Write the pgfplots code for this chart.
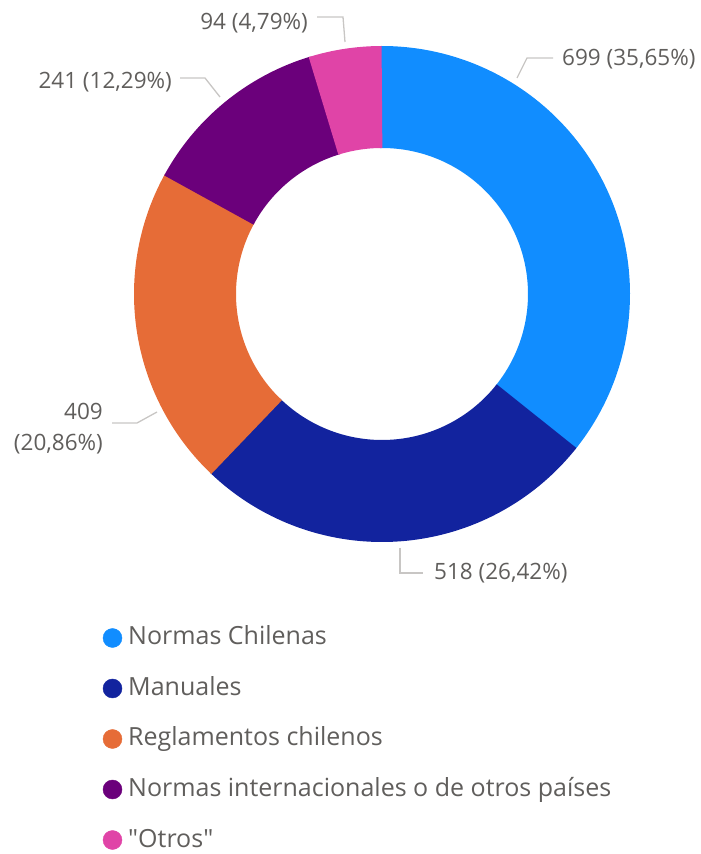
\documentclass[border=0pt]{standalone}
\usepackage{pgfplots}
\pgfplotsset{compat=1.18}
\usepackage{fontspec}
\setmainfont{Open Sans}
\definecolor{c1}{HTML}{118DFF}
\definecolor{c2}{HTML}{12239E}
\definecolor{c3}{HTML}{E66C37}
\definecolor{c4}{HTML}{6B007B}
\definecolor{c5}{HTML}{E044A7}
\definecolor{txt}{HTML}{605E5C}
\definecolor{lead}{HTML}{C8C6C4}
% data
\def\vA{699}\def\vB{518}\def\vC{409}\def\vD{241}\def\vE{94}
\pgfmathsetmacro\tot{\vA+\vB+\vC+\vD+\vE}
\pgfmathsetmacro\aA{90}
\pgfmathsetmacro\aB{\aA-(\vA/\tot)*360}
\pgfmathsetmacro\aC{\aB-(\vB/\tot)*360}
\pgfmathsetmacro\aD{\aC-(\vC/\tot)*360}
\pgfmathsetmacro\aE{\aD-(\vD/\tot)*360}
\pgfmathsetmacro\aF{\aE-(\vE/\tot)*360}
% small overlaps to hide anti-aliasing seams
\pgfmathsetmacro\aAx{\aA+0.6}
\pgfmathsetmacro\aBx{\aB-0.6}
\pgfmathsetmacro\aCx{\aC-0.6}
\pgfmathsetmacro\aDx{\aD-0.6}
\pgfmathsetmacro\aEx{\aE-0.6}
\newcommand\lf{\fontsize{22.5}{27}\selectfont}
\newcommand\gf{\fontsize{25}{30}\selectfont}
\begin{document}
\begin{tikzpicture}
\begin{axis}[scale only axis, width=701pt, height=854pt,
  xmin=0, xmax=701, ymin=0, ymax=854, hide axis, clip=false]
\addplot[c1, no markers, line width=102pt, domain=\aBx:\aAx, samples=150] ({382+197*cos(x)},{560+197*sin(x)});
\addplot[c2, no markers, line width=102pt, domain=\aCx:\aB, samples=120] ({382+197*cos(x)},{560+197*sin(x)});
\addplot[c3, no markers, line width=102pt, domain=\aDx:\aC, samples=100] ({382+197*cos(x)},{560+197*sin(x)});
\addplot[c4, no markers, line width=102pt, domain=\aEx:\aD, samples=60] ({382+197*cos(x)},{560+197*sin(x)});
\addplot[c5, no markers, line width=102pt, domain=\aF:\aE, samples=30] ({382+197*cos(x)},{560+197*sin(x)});
% leader lines
\draw[lead, line width=1.3pt] (axis cs:517,776) -- (axis cs:527,796) -- (axis cs:553,796);
\draw[lead, line width=1.3pt] (axis cs:317,837) -- (axis cs:343,837) -- (axis cs:345,812);
\draw[lead, line width=1.3pt] (axis cs:180,776) -- (axis cs:205,776) -- (axis cs:220,757);
\draw[lead, line width=1.3pt] (axis cs:112,431) -- (axis cs:137,431) -- (axis cs:157,442);
\draw[lead, line width=1.3pt] (axis cs:400,306) -- (axis cs:400,281) -- (axis cs:423,281);
% data labels
\node[anchor=base west, inner sep=0pt, text=txt, font=\lf] at (axis cs:562,788) {699 (35,65\%)};
\node[anchor=base east, inner sep=0pt, text=txt, font=\lf] at (axis cs:308,824) {94 (4,79\%)};
\node[anchor=base east, inner sep=0pt, text=txt, font=\lf] at (axis cs:172,765) {241 (12,29\%)};
\node[anchor=base east, inner sep=0pt, text=txt, font=\lf] at (axis cs:103,434) {409};
\node[anchor=base east, inner sep=0pt, text=txt, font=\lf] at (axis cs:103,403) {(20,86\%)};
\node[anchor=base west, inner sep=0pt, text=txt, font=\lf] at (axis cs:434,274) {518 (26,42\%)};
% legend
\addplot[only marks, mark=*, mark size=9.5pt, c1, forget plot] coordinates {(112.5,216)};
\addplot[only marks, mark=*, mark size=9.5pt, c2, forget plot] coordinates {(112.5,165.5)};
\addplot[only marks, mark=*, mark size=9.5pt, c3, forget plot] coordinates {(112.5,115)};
\addplot[only marks, mark=*, mark size=9.5pt, c4, forget plot] coordinates {(112.5,64.5)};
\addplot[only marks, mark=*, mark size=9.5pt, c5, forget plot] coordinates {(112.5,14)};
\node[anchor=base west, inner sep=0pt, text=txt, font=\gf] at (axis cs:128,209) {Normas Chilenas};
\node[anchor=base west, inner sep=0pt, text=txt, font=\gf] at (axis cs:128,158.5) {Manuales};
\node[anchor=base west, inner sep=0pt, text=txt, font=\gf] at (axis cs:128,108) {Reglamentos chilenos};
\node[anchor=base west, inner sep=0pt, text=txt, font=\gf] at (axis cs:128,57.5) {Normas internacionales o de otros países};
\node[anchor=base west, inner sep=0pt, text=txt, font=\gf] at (axis cs:128,7) {\textquotedbl Otros\textquotedbl};
\end{axis}
\pgfresetboundingbox
\path (current axis.south west) rectangle (current axis.north east);
\end{tikzpicture}
\end{document}
